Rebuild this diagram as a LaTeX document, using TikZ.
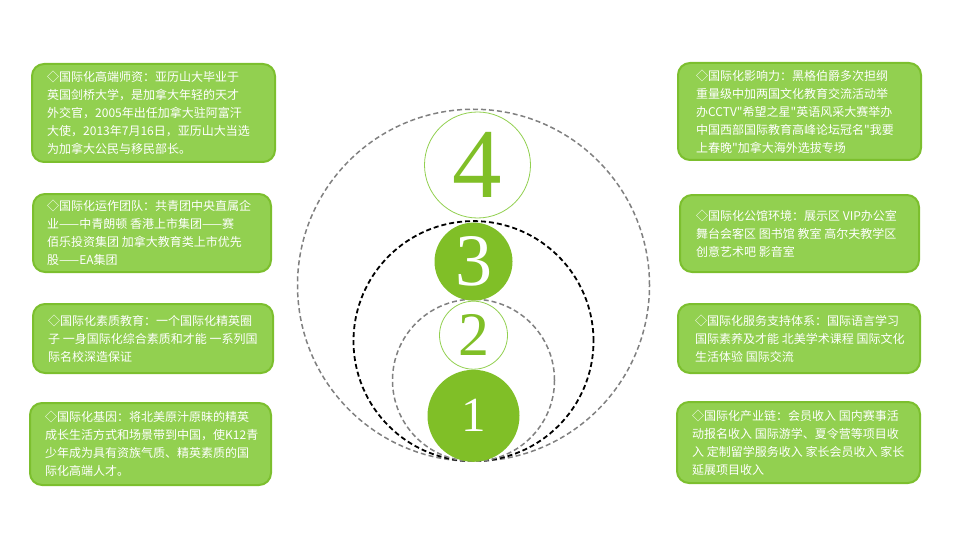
\documentclass[tikz,border=0pt]{standalone}
\usepackage{fontspec}
\newfontfamily\cjk{Noto Sans CJK SC}
\newfontfamily\numfont{Liberation Serif}
\usetikzlibrary{positioning}
\definecolor{cardfill}{HTML}{92D050}
\definecolor{cardline}{HTML}{7CBF2E}
\definecolor{leaf}{HTML}{80BF27}
\definecolor{ringgray}{HTML}{808080}

\begin{document}
\begin{tikzpicture}[x=1pt, y=-1pt,
    card/.style={draw=cardline, line width=2pt, fill=cardfill, rounded corners=12pt},
    cardtext/.style={text=white, align=left, inner sep=0pt, font=\cjk\fontsize{12}{18}\selectfont},
    ring/.style={circle, draw=ringgray, line width=1.5pt, dash pattern=on 5pt off 3pt, inner sep=0pt},
    ball/.style={circle, fill=leaf, text=white, inner sep=0pt},
    hoop/.style={circle, draw=cardfill, line width=0.8pt, fill=white, text=leaf, inner sep=0pt}]
  \useasboundingbox (0,0) rectangle (960,540);

  % dashed rings, all touching at the bottom
  \coordinate (base) at (473.5,462);
  \node[ring, minimum size=352pt, above=0pt of base] (outer) {};
  \node[ring, draw=black, line width=1.8pt, minimum size=240pt, above=0pt of base] (middle) {};
  \node[ring, minimum size=162pt, above=0pt of base] (inner) {};

  % numbered circles
  \node[ball, minimum size=92pt, above=0pt of base, font=\numfont\fontsize{49}{49}\selectfont] (one) {1};
  \node[hoop, minimum size=68pt, above=0pt of one, font=\numfont\fontsize{62}{62}\selectfont] (two) {2};
  \node[ball, minimum size=78pt, above=0pt of two, font=\numfont\fontsize{74}{74}\selectfont] (three) {3};
  \node[hoop, minimum size=106pt, above=4pt of three, xshift=4pt, font=\numfont\fontsize{99}{99}\selectfont] (four) {4};

  % left cards
  \node[card, minimum width=243pt, minimum height=98pt] (lbox1) at (153.5,113) {};
  \node[cardtext, right=16pt of lbox1.west] (ltext1) {◇国际化高端师资：亚历山大毕业于\\英国剑桥大学，是加拿大年轻的天才\\外交官，2005年出任加拿大驻阿富汗\\大使，2013年7月16日，亚历山大当选\\为加拿大公民与移民部长。};

  \node[card, minimum width=238pt, minimum height=78pt] (lbox2) at (152,233) {};
  \node[cardtext, right=15pt of lbox2.west] (ltext2) {◇国际化运作团队：共青团中央直属企\\业——中青朗顿 香港上市集团——赛\\佰乐投资集团 加拿大教育类上市优先\\股——EA集团};

  \node[card, minimum width=240pt, minimum height=69pt] (lbox3) at (153,338.5) {};
  \node[cardtext, right=16pt of lbox3.west] (ltext3) {◇国际化素质教育：一个国际化精英圈\\子 一身国际化综合素质和才能 一系列国\\际名校深造保证};

  \node[card, minimum width=241pt, minimum height=82pt] (lbox4) at (150.5,444) {};
  \node[cardtext, right=16pt of lbox4.west] (ltext4) {◇国际化基因：将北美原汁原昧的精英\\成长生活方式和场景带到中国，使K12青\\少年成为具有资族气质、精英素质的国\\际化高端人才。};

  % right cards
  \node[card, minimum width=243pt, minimum height=97pt] (rbox1) at (799.5,111.5) {};
  \node[cardtext, right=19pt of rbox1.west] (rtext1) {◇国际化影响力：黑格伯爵多次担纲\\重量级中加两国文化教育交流活动举\\办CCTV"希望之星"英语风采大赛举办\\中国西部国际教育高峰论坛冠名"我要\\上春晚"加拿大海外选拔专场};

  \node[card, minimum width=239pt, minimum height=77pt] (rbox2) at (799.5,233.5) {};
  \node[cardtext, right=17pt of rbox2.west] (rtext2) {◇国际化公馆环境：展示区 VIP办公室\\舞台会客区 图书馆 教室 高尔夫教学区\\创意艺术吧 影音室};

  \node[card, minimum width=242pt, minimum height=69pt] (rbox3) at (799,338.5) {};
  \node[cardtext, right=18pt of rbox3.west] (rtext3) {◇国际化服务支持体系：国际语言学习\\国际素养及才能 北美学术课程 国际文化\\生活体验 国际交流};

  \node[card, minimum width=243pt, minimum height=81pt] (rbox4) at (798.5,442.5) {};
  \node[cardtext, right=16pt of rbox4.west] (rtext4) {◇国际化产业链：会员收入 国内赛事活\\动报名收入 国际游学、夏令营等项目收\\入 定制留学服务收入 家长会员收入 家长\\延展项目收入};
\end{tikzpicture}
\end{document}
